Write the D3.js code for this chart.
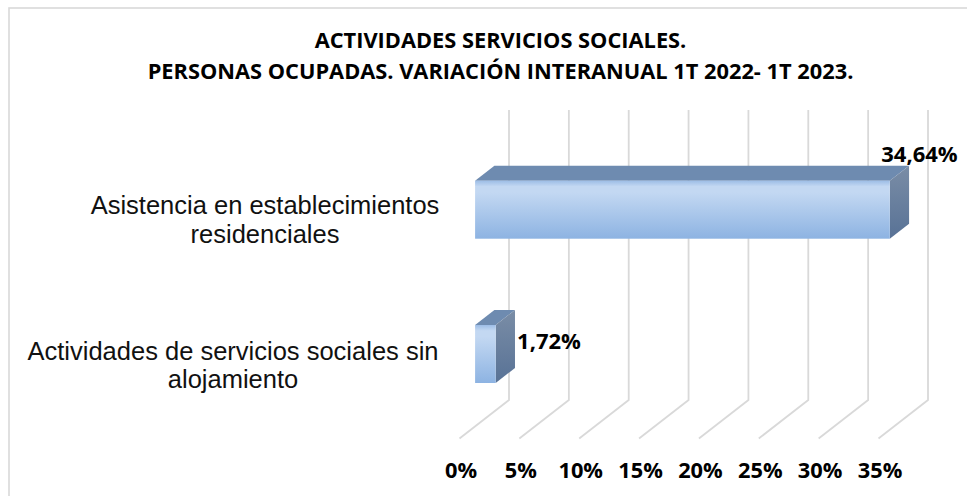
<!DOCTYPE html>
<html><head><meta charset="utf-8">
<script src="https://cdn.jsdelivr.net/npm/d3@7/dist/d3.min.js"></script>
<style>html,body{margin:0;padding:0;background:#fff}svg{display:block}</style>
</head><body><svg id="c" width="967" height="496"></svg>
<script>
const titleLines = ["ACTIVIDADES SERVICIOS SOCIALES.", "PERSONAS OCUPADAS. VARIACIÓN INTERANUAL 1T 2022- 1T 2023."];
const categories = [["Asistencia en establecimientos","residenciales"],["Actividades de servicios sociales sin","alojamiento"]];
const values = [34.64, 1.72];
const valueLabels = ["34,64%","1,72%"];
const ticks = [0,5,10,15,20,25,30,35];
const tickLabels = ["0%","5%","10%","15%","20%","25%","30%","35%"];

const svg = d3.select("#c");
const defs = svg.append("defs");
const gf = defs.append("linearGradient").attr("id","front").attr("x1",0).attr("y1",0).attr("x2",0).attr("y2",1);
[[0,"#9dbde6"],[0.1,"#c3d8f2"],[0.2,"#c3d8f2"],[1,"#8db3e2"]].forEach(s=>gf.append("stop").attr("offset",s[0]).attr("stop-color",s[1]));
const gs = defs.append("linearGradient").attr("id","side").attr("x1",0).attr("y1",0).attr("x2",0).attr("y2",1);
[[0,"#7a8da6"],[1,"#587296"]].forEach(s=>gs.append("stop").attr("offset",s[0]).attr("stop-color",s[1]));

svg.append("rect").attr("x",9).attr("y",8).attr("width",966).attr("height",500).attr("fill","#fff").attr("stroke","#d9d9d9").attr("stroke-width",1.6);

svg.append("g").selectAll("text").data(titleLines).join("text")
  .attr("x",500.5).attr("y",(d,i)=>i?79:47.5).attr("text-anchor","middle")
  .attr("font-family","'Open Sans'").attr("font-weight",700).attr("font-size",21.8).attr("fill","#000").text(d=>d);

// x: value on the floor's front edge; dx/dy: shift with depth (0 = front edge, 1 = back wall)
const x = d3.scaleLinear().domain([0,35]).range([459.5,878.5]);
const dx = d3.scaleLinear().domain([0,1]).range([0,49.5]);
const dy = d3.scaleLinear().domain([0,1]).range([0,-38.5]);
const floorY = 438.5, wallTop = 110;
const barTop = [180.7,325];
const barH = 58;
const dFront = 0.315, dBack = 0.705;

const grid = svg.append("g").attr("fill","none").attr("stroke","#d9d9d9").attr("stroke-width",1.8);
grid.selectAll("path").data(ticks).join("path")
  .attr("d",t=>{const bx=x(t)+dx(1);return `M${x(t)},${floorY}L${bx},${floorY+dy(1)}L${bx},${wallTop}`;});

const pt=(v,d)=>x(v)+dx(d);
const bars = svg.append("g").selectAll("g").data(values).join("g");
bars.each(function(v,i){
  const g=d3.select(this), t=barTop[i], b=t+barH;
  const xf0=pt(0,dFront), xf1=pt(v,dFront), sx=dx(dBack-dFront), sy=dy(dBack-dFront);
  g.append("polygon").attr("points",[[xf0,t],[xf1,t],[xf1+sx,t+sy],[xf0+sx,t+sy]].join(" ")).attr("fill","#6e8bb0");
  g.append("polygon").attr("points",[[xf1,t],[xf1+sx,t+sy],[xf1+sx,b+sy],[xf1,b]].join(" ")).attr("fill","url(#side)");
  g.append("rect").attr("x",xf0).attr("y",t).attr("width",xf1-xf0).attr("height",barH).attr("fill","url(#front)");
});

const labelPos=[[919.5,162],[549,348.5]];
svg.append("g").selectAll("text").data(valueLabels).join("text")
  .attr("x",(d,i)=>labelPos[i][0]).attr("y",(d,i)=>labelPos[i][1]).attr("text-anchor","middle")
  .attr("font-family","'Open Sans'").attr("font-weight",700).attr("font-size",22).attr("fill","#000").text(d=>d);

svg.append("g").selectAll("text").data(ticks).join("text")
  .attr("x",t=>x(t)+1.5).attr("y",478).attr("text-anchor","middle")
  .attr("font-family","'Open Sans'").attr("font-weight",700).attr("font-size",21.8).attr("fill","#000").text((t,i)=>tickLabels[i]);

const catY=[[214,243],[360,388]], catX=[265,233];
categories.forEach((lines,i)=>lines.forEach((l,j)=>{
  svg.append("text").attr("x",catX[i]).attr("y",catY[i][j]).attr("text-anchor","middle")
   .attr("font-family","'Liberation Sans'").attr("font-size",25.5).attr("fill","#111").text(l);
}));
</script></body></html>
